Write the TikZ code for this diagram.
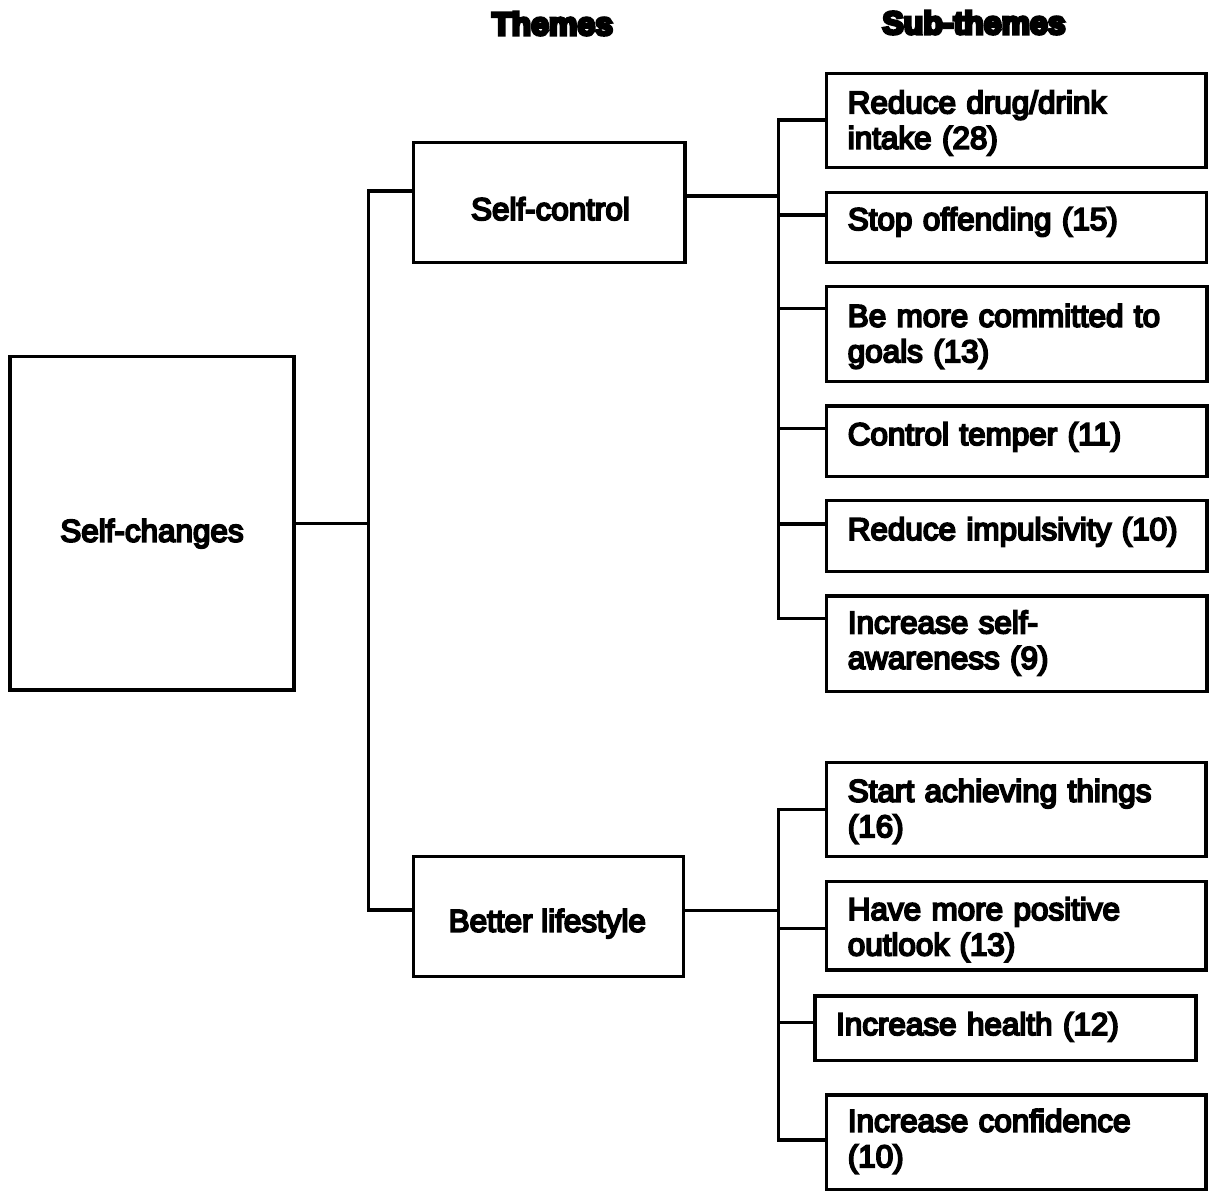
\documentclass[tikz,border=0pt]{standalone}
\usepackage{fontspec}
\setmainfont{Liberation Sans}
\newfontfamily\bodyfont{Liberation Sans}[FakeBold=6]
\newfontfamily\headfont{Liberation Sans}[UprightFont={* Bold}, FakeBold=9.5]

\begin{document}
\begin{tikzpicture}[x=1pt, y=-1pt,
  line width=3.2pt,
  box/.style={draw, rectangle, inner sep=0pt},
  lefttext/.style={anchor=base west, inner sep=0pt, text width=360pt, align=left,
    font=\bodyfont\fontsize{31.4}{35.5}\selectfont},
  midtext/.style={anchor=base, inner sep=0pt,
    font=\bodyfont\fontsize{31.4}{35.5}\selectfont},
  headtext/.style={anchor=base, inner sep=0pt,
    font=\headfont\fontsize{32}{36}\selectfont}]

\useasboundingbox (0,0) rectangle (1210,1191);

% column headings
\node[headtext] (hthemes) at (552.5,35) {Themes};
\node[headtext] (hsub) at (974,34) {Sub-themes};

% root and themes
\node[box, minimum width=284pt, minimum height=333.3pt] (chg) at (152,523.35) {};
\node[midtext] (chgt) at (152,541.7) {Self-changes};

\node[box, minimum width=271.7pt, minimum height=120pt] (ctrl) at (549.15,202.7) {};
\node[midtext] (ctrlt) at (550.5,220) {Self-control};

\node[box, minimum width=270.2pt, minimum height=119.6pt] (life) at (548.4,916.5) {};
\node[midtext] (lifet) at (547.3,931.7) {Better lifestyle};

% sub-themes of Self-control
\node[box, minimum width=379.3pt, minimum height=94pt]   (s1) at (1016.35,120.3) {};
\node[box, minimum width=379.8pt, minimum height=70pt]   (s2) at (1016.6,227.3) {};
\node[box, minimum width=380.3pt, minimum height=95pt]   (s3) at (1016.85,334.2) {};
\node[box, minimum width=380.3pt, minimum height=70.7pt] (s4) at (1016.85,441.35) {};
\node[box, minimum width=380.3pt, minimum height=71pt]   (s5) at (1016.85,536.2) {};
\node[box, minimum width=380.3pt, minimum height=95.7pt] (s6) at (1016.85,643.85) {};

\node[lefttext] (s1t) at (846.2,113.3) {Reduce drug/drink\\intake (28)};
\node[lefttext] (s2t) at (846.2,230) {Stop offending (15)};
\node[lefttext] (s3t) at (846.2,326.7) {Be more committed to\\goals (13)};
\node[lefttext] (s4t) at (846.2,445) {Control temper (11)};
\node[lefttext] (s5t) at (846.2,540) {Reduce impulsivity (10)};
\node[lefttext] (s6t) at (846.2,633.3) {Increase self-\\awareness (9)};

% sub-themes of Better lifestyle
\node[box, minimum width=379.3pt, minimum height=94pt]   (s7)  at (1016.35,809.7) {};
\node[box, minimum width=379.3pt, minimum height=88.3pt] (s8)  at (1016.35,925.85) {};
\node[box, minimum width=381pt,   minimum height=64.7pt] (s9)  at (1005.5,1028.35) {};
\node[box, minimum width=379.3pt, minimum height=94.5pt] (s10) at (1016.35,1142.25) {};

\node[lefttext] (s7t)  at (846.2,801.7) {Start achieving things\\(16)};
\node[lefttext] (s8t)  at (846.2,920) {Have more positive\\outlook (13)};
\node[lefttext] (s9t)  at (834.5,1035) {Increase health (12)};
\node[lefttext] (s10t) at (846.2,1131.7) {Increase confidence\\(10)};

% junction points of the connectors
\coordinate (tA) at (368.5,191);
\coordinate (tB) at (368.5,910);
\coordinate (jA) at (778.5,196);
\coordinate (a1) at (778.5,120);
\coordinate (a2) at (778.5,215);
\coordinate (a3) at (778.5,308.3);
\coordinate (a4) at (778.5,428.3);
\coordinate (a5) at (778.5,524);
\coordinate (a6) at (778.5,618.3);
\coordinate (jB) at (778.5,910.5);
\coordinate (b1) at (778.5,809.3);
\coordinate (b2) at (778.5,928.3);
\coordinate (b3) at (778.5,1022.7);
\coordinate (b4) at (778.5,1140);

% root to themes
\draw (chg.east) -- (chg.east -| tA);
\draw (ctrl.west |- tA) -- (tA) -- (tB) -- (life.west |- tB);

% Self-control to its sub-themes
\draw (ctrl.east |- jA) -- (jA);
\draw (s1.west |- a1) -- (a1) -- (a6) -- (s6.west |- a6);
\draw (a2) -- (s2.west |- a2);
\draw (a3) -- (s3.west |- a3);
\draw (a4) -- (s4.west |- a4);
\draw (a5) -- (s5.west |- a5);

% Better lifestyle to its sub-themes
\draw (life.east |- jB) -- (jB);
\draw (s7.west |- b1) -- (b1) -- (b4) -- (s10.west |- b4);
\draw (b2) -- (s8.west |- b2);
\draw (b3) -- (s9.west |- b3);
\end{tikzpicture}
\end{document}
